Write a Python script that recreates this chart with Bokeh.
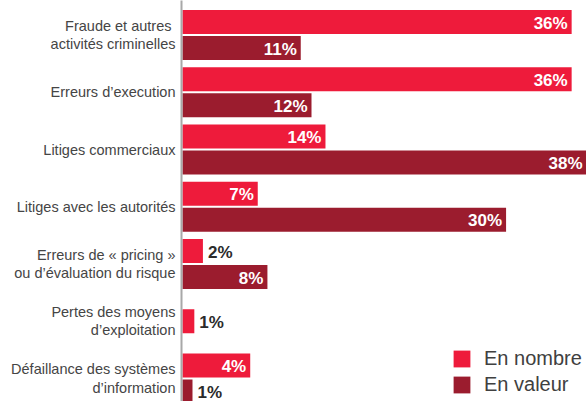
from bokeh.plotting import figure
from bokeh.models import Range1d, FixedTicker, Legend, LegendItem, ColumnDataSource
from bokeh.core.properties import value
from bokeh.embed import file_html
from bokeh.resources import INLINE
import math

categories = [
    "Fraude et autres\u00a0\nactivités criminelles",
    "Erreurs d\u2019execution",
    "Litiges commerciaux",
    "Litiges avec les autorités",
    "Erreurs de \u00ab pricing \u00bb\nou d\u2019évaluation du risque",
    "Pertes des moyens\nd\u2019exploitation",
    "Défaillance des systèmes\nd\u2019information",
]
# bar lengths as drawn (in %)
nombre = [36.2, 36.2, 13.3, 7.0, 1.9, 1.1, 6.3]
valeur = [11.0, 12.0, 38.0, 30.1, 7.9, float("nan"), 0.93]
# printed labels
nombre_labels = ["36%", "36%", "14%", "7%", "2%", "1%", "4%"]
valeur_labels = ["11%", "12%", "38%", "30%", "8%", "", "1%"]

C_NOMBRE = "#EE1B3B"
C_VALEUR = "#9B1C2E"

W, H = 586, 401
LEFT = 181
PX_PER_PCT = 10.75
FRAME_W = W - LEFT
FRAME_H = H
PITCH = 57.25
X_START = -1 / PX_PER_PCT
X_END = X_START + FRAME_W / PX_PER_PCT
Y_TOP = -34.5 / PITCH
Y_BOTTOM = Y_TOP + FRAME_H / PITCH
BAR_H = 24 / PITCH
OFF = 13 / PITCH

p = figure(width=W, height=H, output_backend="svg", toolbar_location=None,
           x_range=Range1d(X_START, X_END), y_range=Range1d(Y_BOTTOM, Y_TOP),
           min_border_left=LEFT, min_border_right=0, min_border_top=0, min_border_bottom=0,
           x_axis_location=None)
p.outline_line_color = None
p.grid.visible = False
p.background_fill_color = "white"

n = len(categories)
has_val = [not math.isnan(v) for v in valeur]
y_nombre = [i - OFF if has_val[i] else i for i in range(n)]
y_valeur = [i + OFF for i in range(n) if has_val[i]]
val_vals = [valeur[i] for i in range(n) if has_val[i]]
val_lbls = [valeur_labels[i] for i in range(n) if has_val[i]]

r1 = p.hbar(y=y_nombre, right=nombre, left=0, height=BAR_H, color=C_NOMBRE, line_color=None)
r2 = p.hbar(y=y_valeur, right=val_vals, left=0, height=BAR_H, color=C_VALEUR, line_color=None)

def add_labels(ys, vals, lbls):
    inside = [v >= 3 for v in vals]
    xs = [min(v, X_END) for v in vals]
    idx_in = [i for i in range(len(vals)) if inside[i]]
    idx_out = [i for i in range(len(vals)) if not inside[i]]
    src_in = ColumnDataSource(dict(x=[xs[i] for i in idx_in], y=[ys[i] for i in idx_in],
                                   t=[lbls[i] for i in idx_in]))
    src_out = ColumnDataSource(dict(x=[xs[i] for i in idx_out], y=[ys[i] for i in idx_out],
                                    t=[lbls[i] for i in idx_out]))
    p.text(x="x", y="y", text="t", source=src_in, text_align="right", text_baseline="middle",
           x_offset=-4, y_offset=1, text_color="white", text_font=value("Liberation Sans"),
           text_font_style="bold", text_font_size="17px")
    p.text(x="x", y="y", text="t", source=src_out, text_align="left", text_baseline="middle",
           x_offset=5, y_offset=1, text_color="#2b2b2b", text_font=value("Liberation Sans"),
           text_font_style="bold", text_font_size="17px")

add_labels(y_nombre, nombre, nombre_labels)
add_labels(y_valeur, val_vals, val_lbls)

ax = p.yaxis[0]
ax.ticker = FixedTicker(ticks=list(range(n)))
ax.major_label_overrides = {i: categories[i] for i in range(n)}
ax.major_tick_out = 0
ax.major_tick_in = 0
ax.minor_tick_out = 0
ax.minor_tick_in = 0
ax.axis_line_color = "#A8A8A8"
ax.axis_line_width = 2
ax.major_label_standoff = 6
ax.major_label_text_font = "Liberation Sans"
ax.major_label_text_font_size = "14.5px"
ax.major_label_text_color = "#454545"
ax.major_label_text_line_height = 1.15

legend = Legend(items=[LegendItem(label="En nombre", renderers=[r1]),
                       LegendItem(label="En valeur", renderers=[r2])],
                location=(270, 5), orientation="vertical",
                glyph_width=21, glyph_height=21, label_standoff=12,
                label_text_font="Liberation Sans", label_text_font_size="20px",
                label_text_color="#404040", spacing=3, padding=0, margin=0,
                border_line_color=None, background_fill_alpha=0, label_height=21)
p.add_layout(legend)

open("out.html", "w").write(file_html(p, INLINE))
